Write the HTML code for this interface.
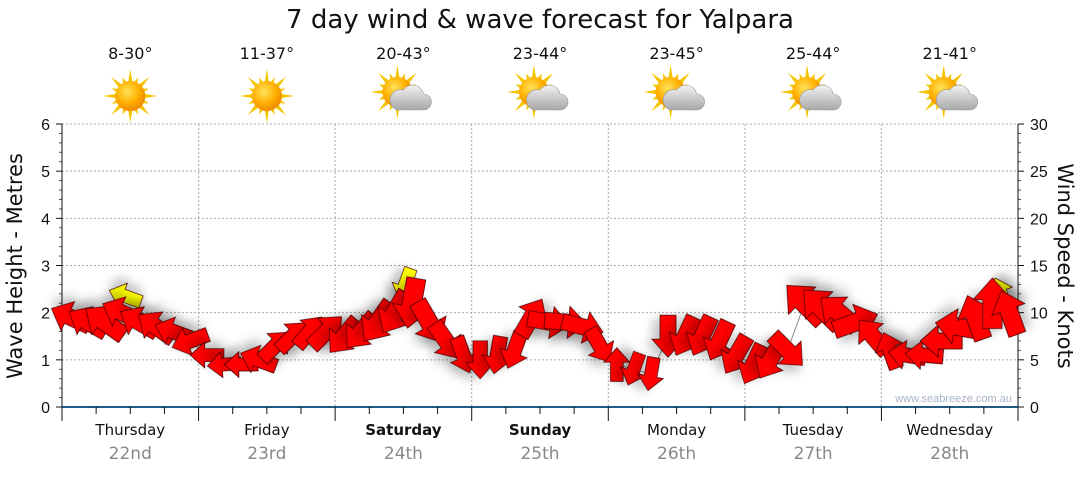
<!DOCTYPE html>
<html><head><meta charset="utf-8"><style>
body{margin:0;background:#fff;width:1080px;height:475px;overflow:hidden;font-family:"Liberation Sans",sans-serif}
</style></head><body>
<svg id="chart" width="1080" height="475" xmlns="http://www.w3.org/2000/svg" font-family="Liberation Sans, DejaVu Sans, sans-serif">
<defs>
<filter id="sh" x="-50%" y="-50%" width="200%" height="200%"><feDropShadow dx="3" dy="7" stdDeviation="5" flood-color="#000" flood-opacity="0.22"/></filter>
<radialGradient id="sun" cx="40%" cy="35%" r="65%"><stop offset="0" stop-color="#ffe25a"/><stop offset="0.6" stop-color="#ffb000"/><stop offset="1" stop-color="#f08a00"/></radialGradient>
<linearGradient id="cloud" x1="0" y1="0" x2="0" y2="1"><stop offset="0" stop-color="#f2f2f2"/><stop offset="1" stop-color="#a8a8a8"/></linearGradient>
</defs>
<text x="540" y="28" font-size="26" text-anchor="middle" fill="#111" font-family="DejaVu Sans, sans-serif">7 day wind &amp; wave forecast for Yalpara</text>
<g id="grid"></g>
<g id="axes"></g>
<g id="icons"></g>
<g id="marks"></g>
<text transform="translate(22,266) rotate(-90)" font-size="21" text-anchor="middle" fill="#111" font-family="DejaVu Sans, sans-serif">Wave Height - Metres</text>
<text transform="translate(1058,266) rotate(90)" font-size="21" text-anchor="middle" fill="#111" font-family="DejaVu Sans, sans-serif">Wind Speed - Knots</text>
<text x="1012" y="402" font-size="11" text-anchor="end" fill="#a8b4c4">www.seabreeze.com.au</text>
</svg>
<script>
const days=["Thursday","Friday","Saturday","Sunday","Monday","Tuesday","Wednesday"];
const dates=["22nd","23rd","24th","25th","26th","27th","28th"];
const temps=["8-30°","11-37°","20-43°","23-44°","23-45°","25-44°","21-41°"];
const cloudy=[0,0,1,1,1,1,1];
const waveTicks=[0,1,2,3,4,5,6];
const windTicks=[0,5,10,15,20,25,30];
const waveHeight=[1.9,1.8,1.8,2.0,1.8,1.7,1.6,1.4,1.1,0.9,0.9,1.0,1.3,1.5,1.6,1.6,1.5,1.6,1.8,2.0,2.2,1.8,1.4,1.1,1.0,1.1,1.2,1.9,1.8,1.8,1.7,1.3,0.9,0.8,0.7,1.5,1.5,1.5,1.4,1.1,0.9,1.0,1.2,2.2,2.1,2.0,1.8,1.5,1.2,1.1,1.1,1.4,1.7,1.9,2.2,2.0];
const windDir=[205,210,215,205,210,215,200,160,180,175,180,200,315,315,310,315,130,130,125,120,100,60,55,70,90,100,110,300,10,5,15,60,270,110,100,90,115,115,115,120,115,120,45,225,225,220,340,230,250,190,185,180,190,250,270,250];
const windSpeed=[10,10,11,10,10,10,9,9,8,8,8,9,9,9,9,10,10,10,11,11,12,11,10,9,9,9,9,10,10,10,10,9,8,8,8,10,10,10,10,10,10,10,10,12,12,11,11,10,9,9,9,10,11,11,12,11];
const calmTime=[3.2,19.6,54.5];
const calmHeight=[2.35,2.6,2.4];
const calmDir=[200,110,250];
const NS="http://www.w3.org/2000/svg";
const X0=62,X1=1018,Y0=407,Y6=124,N=56;
const xT=t=>X0+(t+0.5)*(X1-X0)/N;
const yW=h=>Y0-h*(Y0-Y6)/6;
const yK=k=>Y0-k*(Y0-Y6)/30;
function mk(tag,attrs,parent){const e=document.createElementNS(NS,tag);for(const k in attrs)e.setAttribute(k,attrs[k]);parent.appendChild(e);return e;}
const grid=document.getElementById('grid'),axes=document.getElementById('axes'),icons=document.getElementById('icons'),marks=document.getElementById('marks');
const dayW=(X1-X0)/7;
waveTicks.forEach(v=>{const y=yW(v);
 if(v>0){const g=mk('line',{x1:X0,x2:X1,y1:y,y2:y,stroke:'#aaa','stroke-dasharray':'2,2'},grid);}
 const t=mk('text',{x:50,y:y+6,'font-size':16,'text-anchor':'end',fill:'#111'},axes);t.textContent=v;
 
 mk('line',{x1:X0-6,x2:X0,y1:y,y2:y,stroke:'#111'},axes);
 if(v<6)for(let m=1;m<5;m++){const ym=yW(v+m*0.2);mk('line',{x1:X0-3,x2:X0,y1:ym,y2:ym,stroke:'#555'},axes);}
});
windTicks.forEach((v,i)=>{const y=yK(v);
 const t=mk('text',{x:1030,y:y+6,'font-size':16,fill:'#111'},axes);t.textContent=v;
 
 mk('line',{x1:X1,x2:X1+6,y1:y,y2:y,stroke:'#111'},axes);
 if(v<30)for(let m=1;m<5;m++){const ym=yK(v+m);mk('line',{x1:X1,x2:X1+3,y1:ym,y2:ym,stroke:'#555'},axes);}
});
mk('line',{x1:X0,x2:X0,y1:Y6,y2:Y0,stroke:'#111'},axes);
mk('line',{x1:X1,x2:X1,y1:Y6,y2:Y0,stroke:'#111'},axes);
mk('line',{x1:X0,x2:X1,y1:Y0,y2:Y0,stroke:'#1f5a86','stroke-width':2},axes);
for(let i=0;i<=28;i++){const x=X0+i*dayW/4;mk('line',{x1:x,x2:x,y1:Y0,y2:Y0+(i%4==0?14:7),stroke:'#111'},axes);}
days.forEach((d,i)=>{const cx=X0+(i+0.5)*dayW;
 if(i>0){const x=X0+i*dayW;const g=mk('line',{x1:x,x2:x,y1:Y6,y2:Y0,stroke:'#aaa','stroke-dasharray':'2,2'},grid);}
 const bold=(d=="Saturday"||d=="Sunday");
 const t=mk('text',{x:cx,y:435,'font-size':15,'text-anchor':'middle',fill:'#111','font-weight':bold?'bold':'normal','font-family':'DejaVu Sans, sans-serif'},axes);t.textContent=d;
 
 const t2=mk('text',{x:cx,y:459,'font-size':17,'text-anchor':'middle',fill:'#888','font-family':'DejaVu Sans, sans-serif'},axes);t2.textContent=dates[i];
 
 const t3=mk('text',{x:cx,y:59,'font-size':16,'text-anchor':'middle',fill:'#111','font-family':'DejaVu Sans, sans-serif'},icons);t3.textContent=temps[i];
 
 const g=mk('g',{transform:`translate(${cx},96)`},icons);
 
 const sx=cloudy[i]?-6:0,sy=cloudy[i]?-4:0;
 for(let r=0;r<16;r++){const a=r*Math.PI/8,L=(r%2?20:27);
  const p=[[sx+Math.cos(a)*L,sy+Math.sin(a)*L],[sx+Math.cos(a+0.18)*13,sy+Math.sin(a+0.18)*13],[sx+Math.cos(a-0.18)*13,sy+Math.sin(a-0.18)*13]];
  mk('polygon',{points:p.map(q=>q.join(',')).join(' '),fill:'#f5c400'},g);}
 mk('circle',{cx:sx,cy:sy,r:15,fill:'url(#sun)'},g);
 if(cloudy[i]){mk('path',{d:'M-6,14 h26 a8,8 0 0 0 0,-16 a11,11 0 0 0 -20,-4 a8,8 0 0 0 -6,20z',fill:'url(#cloud)',stroke:'#999','stroke-width':0.6},g);}
});
let d='';waveHeight.forEach((h,i)=>{d+=(i?'L':'M')+xT(i)+','+yW(h);});
const wl=mk('path',{d:d,fill:'none',stroke:'#888','stroke-width':1},marks);

function arrow(x,y,ang,spd,col,name){
 const s=spd/10;const L=42*s,hw=16*s,sw=8*s,hl=18*s;
 const pts=[[L/2,0],[L/2-hl,-hw],[L/2-hl,-sw],[-L/2,-sw],[-L/2,sw],[L/2-hl,sw],[L/2-hl,hw]];
 const p=mk('polygon',{points:pts.map(q=>q.join(',')).join(' '),transform:`translate(${x},${y}) rotate(${ang})`,fill:col,stroke:'#4a0000','stroke-width':0.8,filter:'url(#sh)'},marks);
 
}
calmTime.forEach((t,i)=>arrow(xT(t),yW(calmHeight[i]),calmDir[i],8,'#ffff00','calm-wind-arrow'));
waveHeight.forEach((h,i)=>arrow(xT(i),yW(h),windDir[i],windSpeed[i],'#ff0000','wind-arrow'));
</script>
</body></html>
